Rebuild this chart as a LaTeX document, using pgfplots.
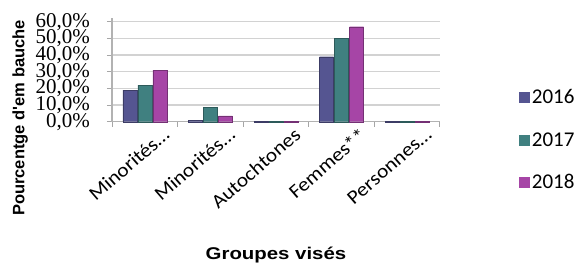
\documentclass[border=0pt]{standalone}
\usepackage{pgfplots}
\pgfplotsset{compat=1.18}
\usepackage{fontspec}
\setmainfont{Liberation Serif}
\newfontfamily\calibri{Carlito}
\newfontfamily\calibriw[FakeStretch=1.1]{Carlito}
\newfontfamily\arial{Liberation Sans}
\newfontfamily\arialw[FakeStretch=1.2]{Liberation Sans}
\definecolor{c16}{RGB}{85,85,145}
\definecolor{c17}{RGB}{64,128,128}
\definecolor{c18}{RGB}{166,69,166}
\begin{document}
\begin{tikzpicture}
\path (0,0) rectangle (581pt,266pt);
\begin{axis}[
  at={(112pt,144.3pt)}, anchor=south west,
  scale only axis, width=328pt, height=103.3pt,
  xmin=-0.5, xmax=4.5, ymin=0, ymax=62,
  ybar=1pt, bar width=14pt,
  xtick={0,1,2,3,4},
  xticklabels={{Minorités\ldots},{Minorités\ldots},{Autochtones},{Femmes**},{Personnes\ldots}},
  major x tick style={draw=none},
  minor xtick={-0.5,0.5,1.5,2.5,3.5,4.5},
  minor tick length=5pt,
  minor x tick style={gray!70, line width=1pt},
  xticklabel style={font=\calibriw\fontsize{19.5}{19.5}\selectfont, rotate=41, anchor=east, inner sep=0pt, xshift=13pt, yshift=-18pt},
  ytick={0,10,20,30,40,50,60},
  yticklabels={{0,0\%},{10,0\%},{20,0\%},{30,0\%},{40,0\%},{50,0\%},{60,0\%}},
  yticklabel style={font=\fontsize{21}{21}\selectfont, inner sep=0pt, xshift=-17pt, anchor=east},
  y tick style={gray!70, line width=1pt},
  major tick length=5pt,
  tick align=outside,
  axis x line*=bottom, axis y line*=left,
  axis line style={gray!60, line width=1.5pt},
  ymajorgrids, grid style={gray!35, line width=1.5pt},
  xlabel={\arialw\bfseries\fontsize{17}{17}\selectfont Groupes visés},
  xlabel style={at={(axis description cs:0.5,0)}, anchor=center, yshift=-133pt, inner sep=0pt},
  ylabel={\arial\bfseries\fontsize{16.5}{16.5}\selectfont Pourcentge d'em bauche},
  ylabel style={at={(axis description cs:-0.28,0.036)}, anchor=center, inner sep=0pt},
  legend style={draw=none, at={(1.24,0.33)}, anchor=north west, font=\calibri\fontsize{21}{21}\selectfont, row sep=23pt, inner sep=0pt, fill=none},
  legend cell align=left,
  legend image code/.code={\fill[#1, draw=none] (0pt,-5.5pt) rectangle (11pt,5.5pt);},
  clip=false,
]
\addplot[fill=c16, draw=c16!70!black] coordinates {(0,19) (1,1) (2,0.3) (3,39) (4,0.4)};
\addplot[fill=c17, draw=c17!70!black] coordinates {(0,22) (1,8.5) (2,0.3) (3,50) (4,0.4)};
\addplot[fill=c18, draw=c18!70!black] coordinates {(0,31) (1,3.5) (2,0.3) (3,57) (4,0.4)};
\legend{2016,2017,2018}
\end{axis}
\end{tikzpicture}
\end{document}
